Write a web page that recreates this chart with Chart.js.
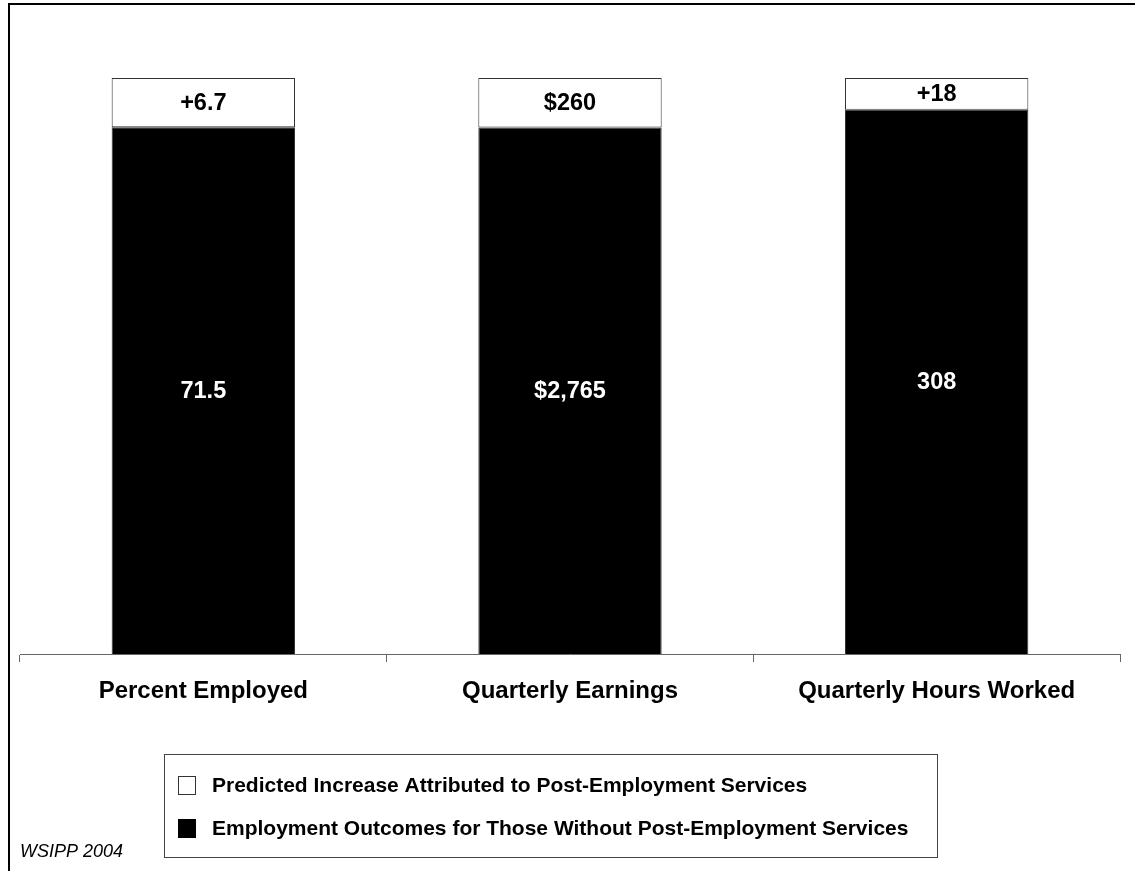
<!DOCTYPE html>
<html>
<head>
<meta charset="utf-8">
<script src="https://cdn.jsdelivr.net/npm/chart.js@4"></script>
<style>
  html, body { margin: 0; padding: 0; background: #fff; }
  canvas { display: block; }
</style>
</head>
<body>
<canvas id="c" width="1135" height="871"></canvas>
<script>
// ---- data ----
const categories = ['Percent Employed', 'Quarterly Earnings', 'Quarterly Hours Worked'];
const baseValues = [71.5, 2765, 308];        // Employment outcomes without post-employment services
const increaseValues = [6.7, 260, 18];       // Predicted increase attributed to post-employment services
const baseLabels = ['71.5', '$2,765', '308'];
const increaseLabels = ['+6.7', '$260', '+18'];
const seriesNames = [
  'Predicted Increase Attributed to Post-Employment Services',
  'Employment Outcomes for Those Without Post-Employment Services'
];
const sourceNote = 'WSIPP 2004';

// 100% stacked shares
const totals = baseValues.map((v, i) => v + increaseValues[i]);
const baseShare = baseValues.map((v, i) => v / totals[i] * 100);
const incShare = increaseValues.map((v, i) => v / totals[i] * 100);

const FONT = "'Liberation Sans', Arial, Helvetica, sans-serif";

const decorPlugin = {
  id: 'decor',
  afterDatasetsDraw(chart) {
    const ctx = chart.ctx;
    ctx.save();
    ctx.textAlign = 'center';
    ctx.textBaseline = 'middle';
    ctx.font = 'bold 23.5px ' + FONT;
    const lbls = [baseLabels, increaseLabels];
    const cols = ['#ffffff', '#000000'];
    chart.data.datasets.forEach((ds, di) => {
      const meta = chart.getDatasetMeta(di);
      meta.data.forEach((el, j) => {
        const cy = (el.y + el.base) / 2;
        ctx.fillStyle = cols[di];
        ctx.fillText(lbls[di][j], el.x, cy + 1);
      });
    });
    ctx.restore();
  },
  afterDraw(chart) {
    const ctx = chart.ctx;
    ctx.save();
    // frame (left and top)
    ctx.strokeStyle = '#000';
    ctx.lineWidth = 2;
    ctx.beginPath();
    ctx.moveTo(9, 871);
    ctx.lineTo(9, 4);
    ctx.lineTo(1135, 4);
    ctx.stroke();

    // legend box
    ctx.lineWidth = 1;
    ctx.strokeStyle = '#444';
    ctx.strokeRect(164.5, 754.5, 773, 103);
    // swatches
    ctx.fillStyle = '#fff';
    ctx.fillRect(178, 776, 18, 19);
    ctx.strokeStyle = '#333';
    ctx.strokeRect(178.5, 776.5, 17, 18);
    ctx.fillStyle = '#000';
    ctx.fillRect(178, 819, 18, 19);

    ctx.fillStyle = '#000';
    ctx.textAlign = 'left';
    ctx.textBaseline = 'middle';
    ctx.font = 'bold 21px ' + FONT;
    ctx.fillText(seriesNames[0], 212, 786);
    ctx.fillText(seriesNames[1], 212, 829);

    ctx.font = 'italic 18px ' + FONT;
    ctx.textBaseline = 'alphabetic';
    ctx.fillText(sourceNote, 20, 857);
    ctx.restore();
  }
};

new Chart(document.getElementById('c'), {
  type: 'bar',
  data: {
    labels: categories,
    datasets: [
      {
        label: seriesNames[1],
        data: baseShare,
        backgroundColor: '#000000',
        borderColor: '#333333',
        borderWidth: 1,
        borderSkipped: 'start',
        categoryPercentage: 1.0,
        barPercentage: 0.5
      },
      {
        label: seriesNames[0],
        data: incShare,
        backgroundColor: '#ffffff',
        borderColor: '#333333',
        borderWidth: 1,
        borderSkipped: false,
        categoryPercentage: 1.0,
        barPercentage: 0.5
      }
    ]
  },
  options: {
    responsive: false,
    devicePixelRatio: 1,
    animation: false,
    layout: { padding: { left: 20, right: 15, top: 78, bottom: 0 } },
    plugins: { legend: { display: false }, tooltip: { enabled: false }, title: { display: false } },
    scales: {
      x: {
        stacked: true,
        grid: { offset: true, drawOnChartArea: false, drawTicks: true, tickLength: 8, color: '#666' },
        border: { display: true, color: '#666', width: 1 },
        ticks: { color: '#000', font: { family: FONT, size: 24, weight: 'bold' }, padding: 15, maxRotation: 0 },
        afterFit: (scale) => { scale.height = 217; }
      },
      y: {
        stacked: true,
        display: false,
        min: 0,
        max: 100
      }
    }
  },
  plugins: [decorPlugin]
});
</script>
</body>
</html>
